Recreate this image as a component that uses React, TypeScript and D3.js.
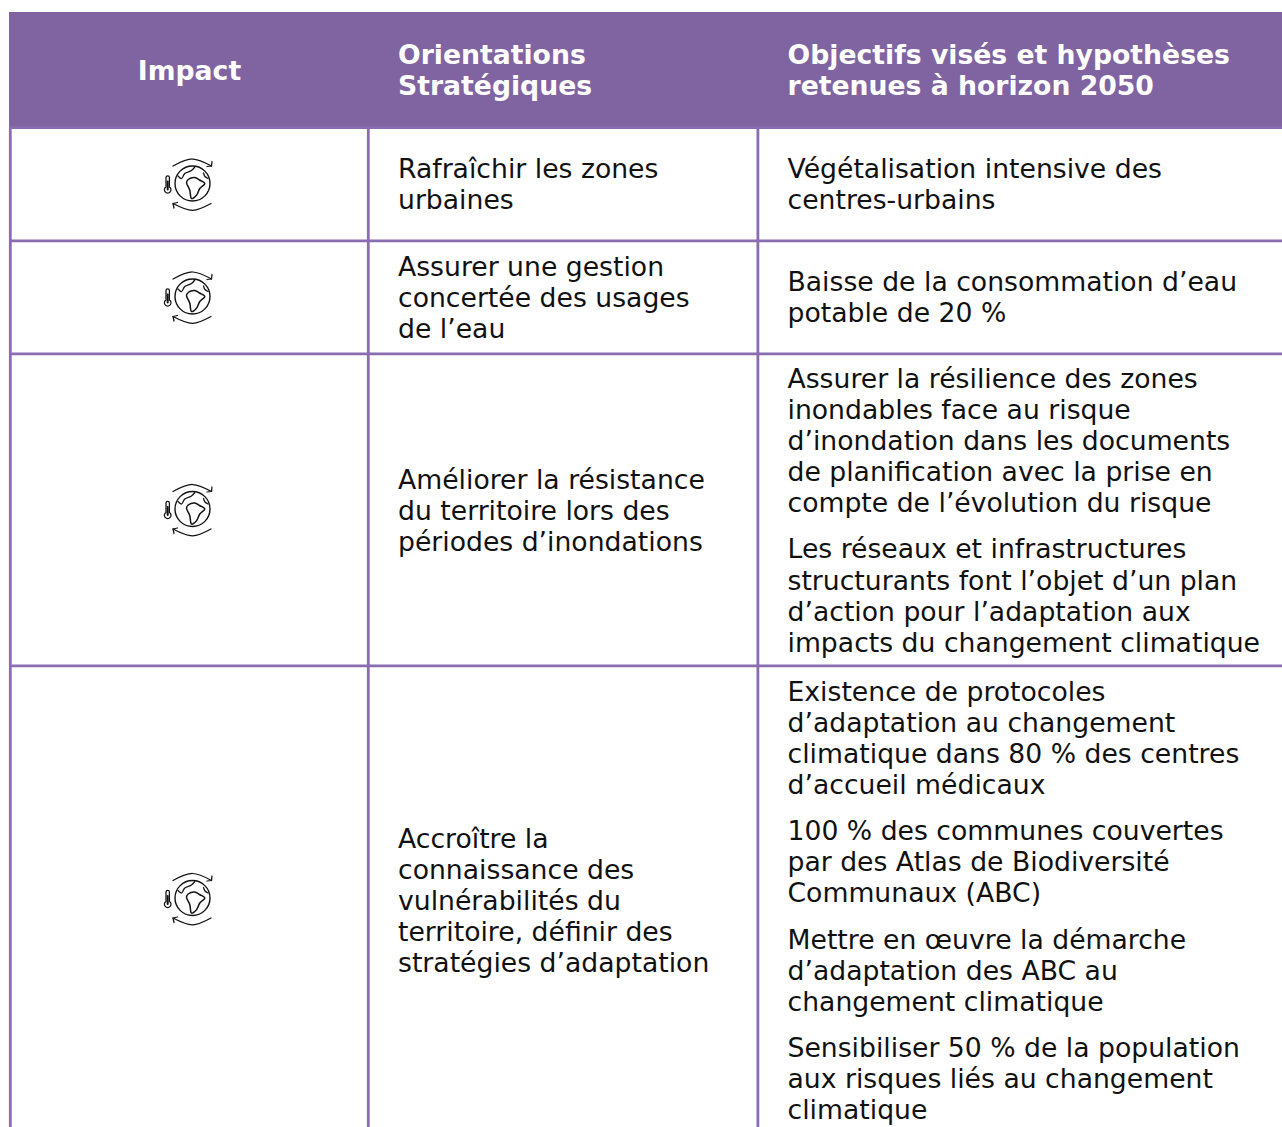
import React from "react";
import * as d3 from "d3";

const headers = ["Impact", ["Orientations", "Stratégiques"], ["Objectifs visés et hypothèses", "retenues à horizon 2050"]];
const orientations = [
  ["Rafraîchir les zones", "urbaines"],
  ["Assurer une gestion", "concertée des usages", "de l’eau"],
  ["Améliorer la résistance", "du territoire lors des", "périodes d’inondations"],
  ["Accroître la", "connaissance des", "vulnérabilités du", "territoire, définir des", "stratégies d’adaptation"],
];
const objectives = [
  [["Végétalisation intensive des", "centres-urbains"]],
  [["Baisse de la consommation d’eau", "potable de 20 %"]],
  [
    ["Assurer la résilience des zones", "inondables face au risque", "d’inondation dans les documents", "de planification avec la prise en", "compte de l’évolution du risque"],
    ["Les réseaux et infrastructures", "structurants font l’objet d’un plan", "d’action pour l’adaptation aux", "impacts du changement climatique"],
  ],
  [
    ["Existence de protocoles", "d’adaptation au changement", "climatique dans 80 % des centres", "d’accueil médicaux"],
    ["100 % des communes couvertes", "par des Atlas de Biodiversité", "Communaux (ABC)"],
    ["Mettre en œuvre la démarche", "d’adaptation des ABC au", "changement climatique"],
    ["Sensibiliser 50 % de la population", "aux risques liés au changement", "climatique"],
  ],
];

const PURPLE = "#8064a2";
const LINE = "#8a6cb0";
const FONT = "'DejaVu Sans', sans-serif";
const FS = 26.67;
const LH = 31.1;
const CENTER_LH = 31;
const GAP = 15.1;
const colX = [10.3, 368.3, 757.9];
const TEXT_X = [189.5, 398, 787.5];
const HEAD_TOP = 12;
const HEAD_H = 116.5;
const ROW_H = [113, 113, 312, 466];
const MID_NUDGE = [-2, -1, -1, 0];
const OBJ_NUDGE = [-2, -2];
const OBJ_START = [0, 0, 33.35, 34.1];
const LINE_NUDGE = -0.6;
const rowTops = [0, ...d3.cumsum(ROW_H)].map((v) => v + HEAD_TOP + HEAD_H);

const curve = d3.line().curve(d3.curveCatmullRomClosed);
const open = d3.line().curve(d3.curveCatmullRom);

const southAmerica: [number, number][] = [[-6, -1], [-4.3, -4], [2.3, -6], [7, -3.5], [12.3, 0], [7.3, 5], [4, 11.7], [-1, 15], [-2.7, 6.7]];
const northAmerica: [number, number][] = [[-14.5, -7.5], [-11, -5], [-7.7, -10], [-1, -13], [2.3, -16.5]];
const africaEdge: [number, number][] = [[11, -10.5], [12.5, -7], [15.5, -5]];
const arrowTop: [number, number][] = [[-19.5, -17.5], [0, -24.5], [19, -17.5]];
const arrowBot: [number, number][] = [[18.5, 20], [0, 26.8], [-19.5, 20]];

function Icon({ cx, cy }: { cx: number; cy: number }) {
  return (
    <g transform={`translate(${cx},${cy})`} fill="none" stroke="#111" strokeWidth={1.25} strokeLinecap="round" strokeLinejoin="round">
      <circle r={17.5} strokeWidth={1.4} />
      <path d={open(arrowTop) as string} />
      <path d={open(arrowBot) as string} />
      <path d="M19.5,-22 L19,-17.5 L14.5,-17" />
      <path d="M-15,19 L-19.5,20 L-18.5,24.5" />
      <path d={curve(southAmerica) as string} strokeWidth={1.5} />
      <path d={open(northAmerica) as string} />
      <path d={open(africaEdge) as string} />
      <g transform="translate(-24.8,0)">
        <path d="M-1.7,3.4 L-1.7,-6 A1.7,1.7 0 0 1 1.7,-6 L1.7,3.4 A3.3,3.3 0 1 1 -1.7,3.4 Z" />
        <path d="M0,-2 L0,6" strokeWidth={2} />
      </g>
    </g>
  );
}

function Lines({ lines, x, y, weight, fill, anchor }: any) {
  return (
    <text x={x} y={y} fontFamily={FONT} fontSize={FS} fontWeight={weight || 400} fill={fill || "#111"} textAnchor={anchor || "start"}>
      {lines.map((l: string, i: number) => (
        <tspan key={i} x={x} y={y + i * LH}>{l}</tspan>
      ))}
    </text>
  );
}

const BASE = 10.075;

export default function App() {
  const headBottom = HEAD_TOP + HEAD_H;
  const centerLines = (n: number, c: number) => c - ((n - 1) * CENTER_LH) / 2 + BASE;
  const headC = HEAD_TOP + HEAD_H / 2;
  return (
    <svg width={1282} height={1127} viewBox="0 0 1282 1127" style={{ position: "absolute", left: 0, top: 0, display: "block" }}>
      <rect width={1282} height={1127} fill="#fff" />
      <rect x={9} y={HEAD_TOP} width={1290} height={HEAD_H} fill={PURPLE} />
      <Lines lines={[headers[0]]} x={TEXT_X[0]} y={centerLines(1, headC)} weight={700} fill="#fff" anchor="middle" />
      <Lines lines={headers[1]} x={TEXT_X[1]} y={centerLines(2, headC) - 1} weight={700} fill="#fff" />
      <Lines lines={headers[2]} x={TEXT_X[2]} y={centerLines(2, headC) - 1} weight={700} fill="#fff" />
      {ROW_H.map((h, i) => {
        const top = rowTops[i];
        const c = top + h / 2;
        const single = objectives[i].length === 1;
        let y = single ? centerLines(objectives[i][0].length, c) + OBJ_NUDGE[i] : top + OBJ_START[i];
        return (
          <g key={i}>
            <Icon cx={192.5} cy={c - 1.5} />
            <Lines lines={orientations[i]} x={TEXT_X[1]} y={centerLines(orientations[i].length, c) + MID_NUDGE[i]} />
            {objectives[i].map((p, j) => {
              const el = <Lines key={j} lines={p} x={TEXT_X[2]} y={y} />;
              y += p.length * LH + GAP;
              return el;
            })}
            <line x1={9} x2={1300} y1={top + h + LINE_NUDGE} y2={top + h + LINE_NUDGE} stroke={LINE} strokeWidth={2.8} />
          </g>
        );
      })}
      {colX.map((x, i) => (
        <line key={i} x1={x} x2={x} y1={headBottom} y2={1127} stroke={LINE} strokeWidth={2.8} />
      ))}
      <line x1={9} x2={1300} y1={headBottom - 0.8} y2={headBottom - 0.8} stroke={LINE} strokeWidth={2.8} />
    </svg>
  );
}
